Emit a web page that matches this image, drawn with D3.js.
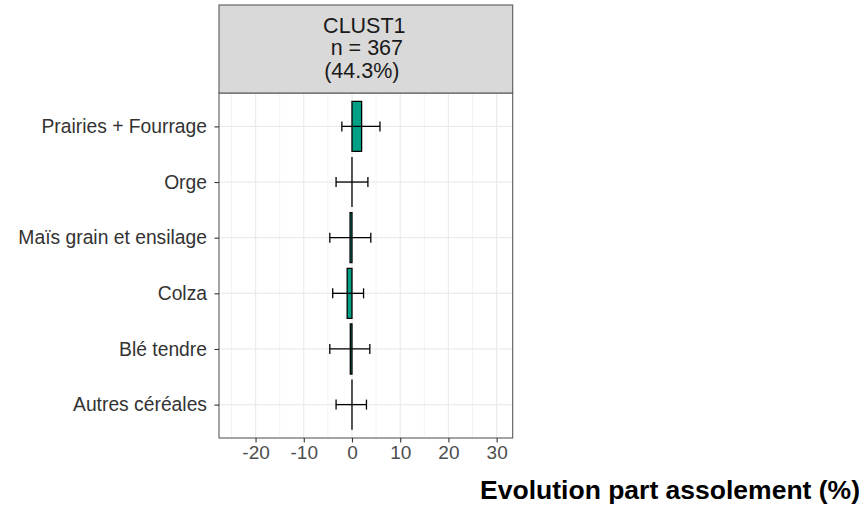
<!DOCTYPE html>
<html>
<head>
<meta charset="utf-8">
<script src="https://cdn.jsdelivr.net/npm/d3@7"></script>
<style>
  body { margin: 0; background: #fff; }
  svg { font-family: "Liberation Sans", Arial, sans-serif; }
</style>
</head>
<body>
<div id="chart"></div>
<script>
// data
const categories = ["Prairies + Fourrage", "Orge", "Maïs grain et ensilage", "Colza", "Blé tendre", "Autres céréales"];
const values = [2.0, 0.0, -0.4, -1.0, -0.35, 0.0];
const lower = [-2.1, -3.3, -4.6, -4.0, -4.6, -3.3];
const upper = [5.8, 3.3, 3.9, 2.4, 3.7, 3.0];
const xTicks = [-20, -10, 0, 10, 20, 30];
const xMinor = [-25, -15, -5, 5, 15, 25];
const stripLines = ["CLUST1", "n = 367", "(44.3%)"];
const xTitle = "Evolution part assolement (%)";

const data = categories.map((c, i) => ({ cat: c, value: values[i], lo: lower[i], hi: upper[i] }));

const width = 868, height = 507;
const panel = { left: 219, right: 512.7, top: 93, bottom: 438 };
const strip = { top: 5, bottom: 93 };

const svg = d3.select("#chart").append("svg")
  .attr("width", width).attr("height", height);

const x = d3.scaleLinear().domain([-27.58, 33.33]).range([panel.left, panel.right]);
const y = d3.scalePoint().domain(categories).range([panel.top, panel.bottom]).padding(0.6);
const step = y.step();

// panel background + grid
svg.append("rect")
  .attr("x", panel.left).attr("y", panel.top)
  .attr("width", panel.right - panel.left).attr("height", panel.bottom - panel.top)
  .attr("fill", "#fff");

const grid = svg.append("g");
grid.selectAll(".minor").data(xMinor).enter().append("line")
  .attr("x1", d => x(d)).attr("x2", d => x(d))
  .attr("y1", panel.top).attr("y2", panel.bottom)
  .attr("stroke", "#ebebeb").attr("stroke-width", 0.6);
grid.selectAll(".major").data(xTicks).enter().append("line")
  .attr("x1", d => x(d)).attr("x2", d => x(d))
  .attr("y1", panel.top).attr("y2", panel.bottom)
  .attr("stroke", "#ebebeb").attr("stroke-width", 1.2);
grid.selectAll(".hmajor").data(categories).enter().append("line")
  .attr("x1", panel.left).attr("x2", panel.right)
  .attr("y1", d => y(d)).attr("y2", d => y(d))
  .attr("stroke", "#ebebeb").attr("stroke-width", 1.2);

// bars (paths so that zero-width bars still show their outline)
const barH = step * 0.9;
svg.append("g").selectAll("path").data(data).enter().append("path")
  .attr("d", d => {
    const x0 = x(Math.min(0, d.value)), x1 = x(Math.max(0, d.value));
    const y0 = y(d.cat) - barH / 2, y1 = y(d.cat) + barH / 2;
    return "M" + x0 + "," + y0 + "H" + x1 + "V" + y1 + "H" + x0 + "Z";
  })
  .attr("fill", "#00A087")
  .attr("stroke", "#000")
  .attr("stroke-width", 1.3);

// horizontal error bars
const capH = step * 0.18;
const err = svg.append("g").attr("stroke", "#000").attr("stroke-width", 1.3).attr("fill", "none");
err.selectAll(".h").data(data).enter().append("line")
  .attr("x1", d => x(d.lo)).attr("x2", d => x(d.hi))
  .attr("y1", d => y(d.cat)).attr("y2", d => y(d.cat));
err.selectAll(".cl").data(data).enter().append("line")
  .attr("x1", d => x(d.lo)).attr("x2", d => x(d.lo))
  .attr("y1", d => y(d.cat) - capH / 2).attr("y2", d => y(d.cat) + capH / 2);
err.selectAll(".cr").data(data).enter().append("line")
  .attr("x1", d => x(d.hi)).attr("x2", d => x(d.hi))
  .attr("y1", d => y(d.cat) - capH / 2).attr("y2", d => y(d.cat) + capH / 2);

// panel border
svg.append("rect")
  .attr("x", panel.left).attr("y", panel.top)
  .attr("width", panel.right - panel.left).attr("height", panel.bottom - panel.top)
  .attr("fill", "none").attr("stroke", "#5a5a5a").attr("stroke-width", 1.1);

// strip
svg.append("rect")
  .attr("x", panel.left).attr("y", strip.top)
  .attr("width", panel.right - panel.left).attr("height", strip.bottom - strip.top)
  .attr("fill", "#d9d9d9").attr("stroke", "#5a5a5a").attr("stroke-width", 1.1);
svg.append("g").selectAll("text").data(stripLines).enter().append("text")
  .attr("x", (panel.left + panel.right) / 2)
  .attr("y", (d, i) => 33 + i * 22.4)
  .attr("dx", (d, i) => [-1.5, 1, -4][i])
  .attr("text-anchor", "middle")
  .attr("font-size", "21.5px")
  .attr("fill", "#1a1a1a")
  .text(d => d);

// x axis
const xAxis = svg.append("g")
  .attr("transform", "translate(0," + panel.bottom + ")")
  .call(d3.axisBottom(x).tickValues(xTicks).tickSize(4.5).tickPadding(3.5).tickFormat(d3.format("d")));
xAxis.select(".domain").remove();
xAxis.selectAll("line").attr("stroke", "#333").attr("stroke-width", 1.1);
xAxis.selectAll("text").attr("font-size", "19px").attr("fill", "#4d4d4d")
  .attr("font-family", "Liberation Sans, Arial, sans-serif").text(d => d < 0 ? "-" + Math.abs(d) : d);

// y axis
const yAxis = svg.append("g")
  .attr("transform", "translate(" + panel.left + ",0)")
  .call(d3.axisLeft(y).tickSize(4.5).tickPadding(7.5));
yAxis.select(".domain").remove();
yAxis.selectAll("line").attr("stroke", "#333").attr("stroke-width", 1.1);
yAxis.selectAll("text").attr("font-size", "19.3px").attr("fill", "#333")
  .attr("font-family", "Liberation Sans, Arial, sans-serif");

// axis title
svg.append("text")
  .attr("x", 860).attr("y", 499)
  .attr("text-anchor", "end")
  .attr("font-size", "26.5px")
  .attr("font-weight", "bold")
  .attr("fill", "#000")
  .text(xTitle);
</script>
</body>
</html>
